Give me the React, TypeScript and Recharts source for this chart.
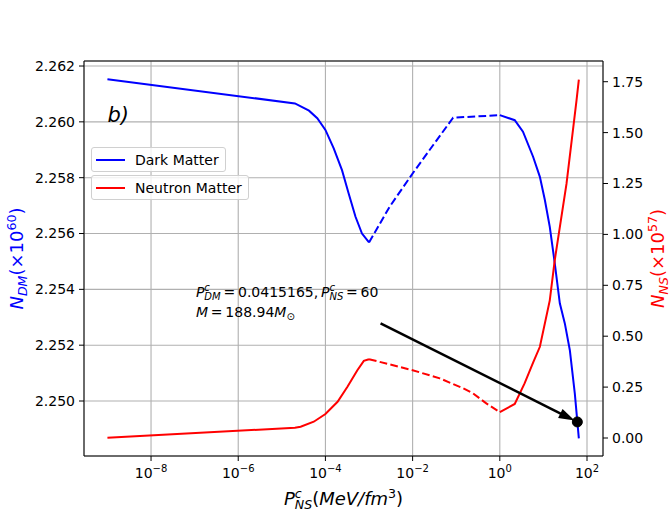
import { ComposedChart, Line, XAxis, YAxis, CartesianGrid, Legend, ReferenceLine, ReferenceDot } from 'recharts';

const FONT = '"DejaVu Sans", sans-serif';
const BLUE = '#0000ff';
const RED = '#ff0000';

// N_DM (x10^60) on the left axis, split where the curve turns dashed
const dmLow = [
  { p: 1e-9, n: 2.26153 },
  { p: 2e-5, n: 2.26066 },
  { p: 4.2e-5, n: 2.2604 },
  { p: 6.5e-5, n: 2.26013 },
  { p: 1e-4, n: 2.25971 },
  { p: 1.55e-4, n: 2.25905 },
  { p: 2.4e-4, n: 2.25827 },
  { p: 3.4e-4, n: 2.25744 },
  { p: 4.9e-4, n: 2.2566 },
  { p: 6.9e-4, n: 2.256 },
  { p: 1e-3, n: 2.25568 },
];
const dmMid = [
  { p: 1e-3, n: 2.25568 },
  { p: 3e-3, n: 2.25697 },
  { p: 1e-2, n: 2.25815 },
  { p: 3e-2, n: 2.25918 },
  { p: 8.5e-2, n: 2.26015 },
  { p: 1, n: 2.26024 },
];
const dmHigh = [
  { p: 1, n: 2.26024 },
  { p: 2.2, n: 2.26006 },
  { p: 3.4, n: 2.25965 },
  { p: 5.8, n: 2.25875 },
  { p: 8.3, n: 2.25803 },
  { p: 10.8, n: 2.2572 },
  { p: 14, n: 2.25624 },
  { p: 18.2, n: 2.25494 },
  { p: 23.8, n: 2.2535 },
  { p: 31, n: 2.25278 },
  { p: 40.4, n: 2.25182 },
  { p: 52.5, n: 2.25027 },
  { p: 65, n: 2.24866 },
];

// N_NS (x10^57) on the right axis
const nsLow = [
  { p: 1e-9, n: 0.0015 },
  { p: 2e-5, n: 0.05 },
  { p: 2.7e-5, n: 0.055 },
  { p: 5.4e-5, n: 0.08 },
  { p: 1e-4, n: 0.118 },
  { p: 1.9e-4, n: 0.178 },
  { p: 3.2e-4, n: 0.252 },
  { p: 5.4e-4, n: 0.333 },
  { p: 7.6e-4, n: 0.379 },
  { p: 1e-3, n: 0.387 },
];
const nsMid = [
  { p: 1e-3, n: 0.387 },
  { p: 1e-2, n: 0.333 },
  { p: 4.2e-2, n: 0.293 },
  { p: 0.145, n: 0.244 },
  { p: 0.245, n: 0.219 },
  { p: 0.49, n: 0.17 },
  { p: 1, n: 0.127 },
];
const nsHigh = [
  { p: 1, n: 0.127 },
  { p: 2.2, n: 0.167 },
  { p: 3.7, n: 0.268 },
  { p: 5.8, n: 0.37 },
  { p: 8.3, n: 0.448 },
  { p: 14, n: 0.676 },
  { p: 18.2, n: 0.873 },
  { p: 33.9, n: 1.249 },
  { p: 57.4, n: 1.657 },
  { p: 65, n: 1.76 },
];

const xTicks = [1e-8, 1e-6, 1e-4, 1e-2, 1, 1e2];
const dmTicks = [2.25, 2.252, 2.254, 2.256, 2.258, 2.26, 2.262];
const nsTicks = [0, 0.25, 0.5, 0.75, 1.0, 1.25, 1.5, 1.75];
const seriesNames = ['Dark Matter', 'Neutron Matter'];
const seriesColors = [BLUE, RED];

const xDomain = [2.9e-10, 232.8];
const dmDomain = [2.24803, 2.26218];
const nsDomain = [-0.0884, 1.8517];

// annotation anchors (data coordinates)
const marker = { p: 60, n: 2.24925 };
const arrowTail = { p: 1.84e-3, n: 2.25278 };
const noteAt = { p: 1.07e-7, n: 2.25302 };
const panelAt = { p: 1e-9, n: 2.26 };

const LogTick = ({ x, y, payload }: any) => {
  const e = Math.round(Math.log10(payload.value));
  return (
    <text x={x} y={y + 15} textAnchor="middle" fontFamily={FONT} fontSize={14} fill="#000">
      <tspan>10</tspan>
      <tspan dy={-6} fontSize={10}>{e < 0 ? '\u2212' + -e : String(e)}</tspan>
    </text>
  );
};

const Arrow = ({ x1, y1, x2, y2 }: any) => {
  const dx = x2 - x1;
  const dy = y2 - y1;
  const len = Math.sqrt(dx * dx + dy * dy);
  const ux = dx / len;
  const uy = dy / len;
  const tipX = x2 - ux * 3;
  const tipY = y2 - uy * 3;
  const head = 16;
  const half = 5;
  const bx = tipX - ux * head;
  const by = tipY - uy * head;
  const pts = `${tipX},${tipY} ${bx - uy * half},${by + ux * half} ${bx + uy * half},${by - ux * half}`;
  return (
    <g>
      <line x1={x1} y1={y1} x2={bx + ux * 2} y2={by + uy * 2} stroke="#000" strokeWidth={2.5} />
      <polygon points={pts} fill="#000" />
    </g>
  );
};

const Note = ({ cx, cy }: any) => (
  <g fontFamily={FONT} fontSize={14} fill="#000">
    <text x={cx} y={cy - 20}>
      <tspan fontStyle="italic">P</tspan>
      <tspan fontStyle="italic" fontSize={10} dy={-6}>c</tspan>
      <tspan fontStyle="italic" fontSize={10} dx={-5.5} dy={9}>DM</tspan>
      <tspan dy={-3}>{'\u2009=\u20090.0415165,\u2009'}</tspan>
      <tspan fontStyle="italic">P</tspan>
      <tspan fontStyle="italic" fontSize={10} dy={-6}>c</tspan>
      <tspan fontStyle="italic" fontSize={10} dx={-5.5} dy={9}>NS</tspan>
      <tspan dy={-3}>{'\u2009=\u200960'}</tspan>
    </text>
    <text x={cx} y={cy}>
      <tspan fontStyle="italic">M</tspan>
      <tspan>{'\u2009=\u2009188.94'}</tspan>
      <tspan fontStyle="italic">M</tspan>
      <tspan fontSize={10} dy={3}>{'\u2299'}</tspan>
    </text>
  </g>
);

const Panel = ({ cx, cy }: any) => (
  <text x={cx} y={cy} fontFamily={FONT} fontSize={21} fontStyle="italic" fill="#000">b)</text>
);

const XLabel = ({ viewBox }: any) => (
  <text x={viewBox.x + viewBox.width / 2} y={viewBox.y + 49} textAnchor="middle" fontFamily={FONT} fontSize={18} fill="#000">
    <tspan fontStyle="italic">P</tspan>
    <tspan fontStyle="italic" fontSize={12.6} dy={-7}>c</tspan>
    <tspan fontStyle="italic" fontSize={12.6} dx={-7} dy={11}>NS</tspan>
    <tspan dy={-4}>(</tspan>
    <tspan fontStyle="italic">MeV/fm</tspan>
    <tspan fontSize={12.6} dy={-7}>3</tspan>
    <tspan dy={7}>)</tspan>
  </text>
);

const YLabel = ({ cx, cy, color, sub, exp }: any) => (
  <text x={cx} y={cy} transform={`rotate(-90, ${cx}, ${cy})`} textAnchor="middle" fontFamily={FONT} fontSize={18} fill={color}>
    <tspan fontStyle="italic">N</tspan>
    <tspan fontStyle="italic" fontSize={12.6} dy={4}>{sub}</tspan>
    <tspan dy={-4}>(×10</tspan>
    <tspan fontSize={12.6} dy={-7}>{exp}</tspan>
    <tspan dy={7}>)</tspan>
  </text>
);

const LegendBoxes = () => (
  <div style={{ fontFamily: FONT, fontSize: 14, color: '#000' }}>
    {seriesNames.map((name, i) => (
      <div
        key={name}
        style={{
          display: 'flex',
          alignItems: 'center',
          width: 'fit-content',
          height: 25,
          boxSizing: 'border-box',
          padding: '0 6px 0 4px',
          marginBottom: 3,
          border: '1px solid #d0d0d0',
          borderRadius: 3,
          background: 'rgba(255,255,255,0.8)',
        }}
      >
        <div style={{ width: 29, height: 2, background: seriesColors[i], marginRight: 10 }} />
        <span style={{ whiteSpace: 'nowrap' }}>{name}</span>
      </div>
    ))}
  </div>
);

export default function App() {
  return (
    <div style={{ position: 'absolute', left: 0, top: 0, background: '#fff' }}>
      <ComposedChart width={669} height={512} margin={{ top: 61, right: 0, bottom: 0, left: 0 }}>
        <CartesianGrid yAxisId="left" stroke="#b0b0b0" strokeWidth={1.1} />
        <XAxis
          dataKey="p"
          type="number"
          scale="log"
          domain={xDomain}
          allowDataOverflow
          ticks={xTicks}
          height={56}
          stroke="#000"
          tickSize={5}
          tick={<LogTick />}
          label={{ content: (props: any) => <XLabel {...props} /> }}
        />
        <YAxis
          yAxisId="left"
          type="number"
          domain={dmDomain}
          allowDataOverflow
          ticks={dmTicks}
          width={84}
          stroke="#000"
          tickSize={5}
          tickMargin={4}
          tick={{ fontSize: 14, fill: '#000', fontFamily: FONT }}
          tickFormatter={(v: number) => v.toFixed(3)}
          label={{ content: ({ viewBox }: any) => <YLabel cx={viewBox.x + 23} cy={viewBox.y + viewBox.height / 2} color={BLUE} sub="DM" exp="60" /> }}
        />
        <YAxis
          yAxisId="right"
          orientation="right"
          type="number"
          domain={nsDomain}
          allowDataOverflow
          ticks={nsTicks}
          width={66}
          stroke="#000"
          tickSize={5}
          tickMargin={4}
          tick={{ fontSize: 14, fill: '#000', fontFamily: FONT }}
          tickFormatter={(v: number) => v.toFixed(2)}
          label={{ content: ({ viewBox }: any) => <YLabel cx={viewBox.x + 61} cy={viewBox.y + viewBox.height / 2} color={RED} sub="NS" exp="57" /> }}
        />
        <ReferenceLine yAxisId="left" y={dmDomain[1]} stroke="#000" strokeWidth={1.1} />
        <Legend layout="vertical" align="center" verticalAlign="middle" wrapperStyle={{ left: 91, top: 147, width: 'auto' }} content={() => <LegendBoxes />} />

        <Line yAxisId="left" data={dmLow} dataKey="n" stroke={BLUE} strokeWidth={2} dot={false} isAnimationActive={false} name="Dark Matter" />
        <Line yAxisId="left" data={dmMid} dataKey="n" stroke={BLUE} strokeWidth={2} strokeDasharray="7.7 3.3" dot={false} isAnimationActive={false} legendType="none" />
        <Line yAxisId="left" data={dmHigh} dataKey="n" stroke={BLUE} strokeWidth={2} dot={false} isAnimationActive={false} legendType="none" />
        <Line yAxisId="right" data={nsLow} dataKey="n" stroke={RED} strokeWidth={2} dot={false} isAnimationActive={false} name="Neutron Matter" />
        <Line yAxisId="right" data={nsMid} dataKey="n" stroke={RED} strokeWidth={2} strokeDasharray="7.7 3.3" dot={false} isAnimationActive={false} legendType="none" />
        <Line yAxisId="right" data={nsHigh} dataKey="n" stroke={RED} strokeWidth={2} dot={false} isAnimationActive={false} legendType="none" />

        <ReferenceDot yAxisId="left" x={panelAt.p} y={panelAt.n} r={0} shape={(props: any) => <Panel {...props} />} />
        <ReferenceDot yAxisId="left" x={noteAt.p} y={noteAt.n} r={0} shape={(props: any) => <Note {...props} />} />
        <ReferenceLine
          yAxisId="left"
          segment={[{ x: arrowTail.p, y: arrowTail.n }, { x: marker.p, y: marker.n }]}
          shape={(props: any) => <Arrow {...props} />}
        />
        <ReferenceDot yAxisId="left" x={marker.p} y={marker.n} r={5} fill="#000" stroke="#000" />
      </ComposedChart>
    </div>
  );
}
